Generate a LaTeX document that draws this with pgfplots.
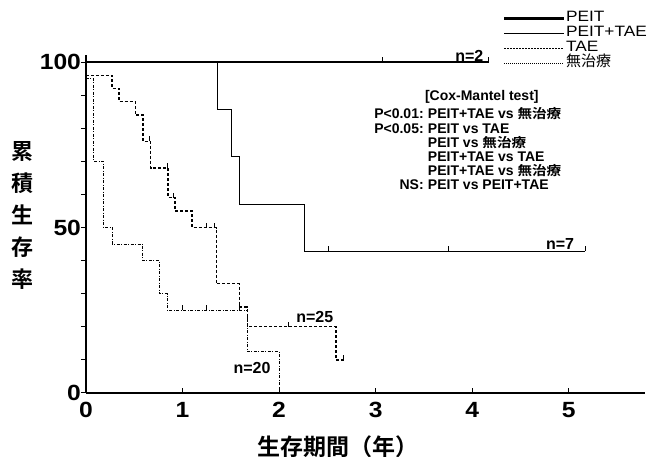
\documentclass[border=0pt]{standalone}
\usepackage{fontspec}
\setmainfont{Liberation Sans}
\newfontfamily\cjk{Noto Sans CJK JP}[BoldFont={Noto Sans CJK JP Bold}]
\usepackage{graphicx}
\usepackage{pgfplots}
\pgfplotsset{compat=1.18}

% censoring tick: short stroke upwards from the point
\pgfdeclareplotmark{cens}{%
  \pgfpathmoveto{\pgfpointorigin}%
  \pgfpathlineto{\pgfpoint{0pt}{5pt}}%
  \pgfusepathqstroke}

\newcommand\wide[1]{\scalebox{1.15}[1]{#1}}
\newcommand\jp[1]{\scalebox{1.12}[1]{\cjk\fontsize{13}{13}\selectfont #1}}

\tikzset{
  peit/.style={black, line width=2.6pt},
  peittae/.style={black, line width=1pt},
  tae/.style={black, line width=1.4pt, dash pattern=on 3pt off 2pt},
  none/.style={black, line width=1pt, dash pattern=on 3pt off 1.5pt on 1pt off 1.5pt},
}

\begin{document}
\begin{tikzpicture}[x=1pt,y=1pt]
\useasboundingbox (0,0) rectangle (657,457);
\begin{axis}[
  at={(86pt,64pt)}, anchor=south west,
  scale only axis, width=559pt, height=337.6pt,
  xmin=0, xmax=5.79, ymin=0, ymax=102,
  axis x line=bottom, axis y line=left,
  axis line style={line width=2.6pt, -},
  clip=false,
  xtick={0,1,2,3,4,5},
  ytick={0,50,100},
  minor ytick={10,20,30,40,60,70,80,90},
  tick align=inside,
  major tick length=5pt, minor tick length=5pt,
  tick style={black, line width=1pt},
  y tick style={xshift=-5pt},
  /pgf/number format/assume math mode=true,
  ticklabel style={font=\fontsize{22}{22}\selectfont\bfseries, xscale=1.12},
  xticklabel style={yshift=-6pt},
  yticklabel style={xshift=-1pt},
  legend style={draw=none, fill=none, inner sep=0pt,
    at={(axis cs:4.317,115.5)}, anchor=north west,
    font=\fontsize{15}{15}\selectfont, row sep=0pt,
    nodes={inner sep=0.5pt, text height=10.5pt, text depth=3.5pt},
    legend cell align=left},
  legend image code/.code={\draw[#1] (0pt,0pt) -- (60pt,0pt);},
]
\addlegendimage{peit}
\addlegendentry{\wide{PEIT}}
\addlegendimage{peittae}
\addlegendentry{\wide{PEIT+TAE}}
\addlegendimage{black, line width=1pt, dash pattern=on 1.5pt off 1.5pt}
\addlegendentry{\wide{TAE}}
\addlegendimage{black, line width=0.8pt, dash pattern=on 1pt off 1pt}
\addlegendentry{{\cjk 無治療}}

% PEIT
\addplot[peit, const plot, forget plot] coordinates {(0,100) (4.17,100)};
\addplot[only marks, mark=cens, mark options={black, line width=1pt}, forget plot]
  coordinates {(3.07,100) (4.17,100)};

% PEIT+TAE
\addplot[peittae, const plot, forget plot] coordinates {
  (0,100) (1.36,85.7) (1.51,71.4) (1.59,57.1) (2.26,42.9) (5.17,42.9)};
\addplot[only marks, mark=cens, mark options={black, line width=1pt}, forget plot]
  coordinates {(2.51,42.9) (3.75,42.9) (5.17,42.9)};

% TAE
\addplot[tae, const plot, forget plot] coordinates {
  (0,96) (0.27,92) (0.34,88) (0.51,84) (0.59,76) (0.67,68) (0.85,59)
  (0.92,55) (1.10,50) (1.35,33) (1.59,26) (1.67,20) (2.59,10) (2.67,10)};
\addplot[only marks, mark=cens, mark options={black, line width=1pt}, forget plot]
  coordinates {(0.66,76) (0.84,68) (0.91,59) (1.25,50) (1.33,50) (2.10,20) (2.67,10)};

% no treatment
\addplot[none, const plot, forget plot] coordinates {
  (0,95) (0.08,70) (0.18,50) (0.27,45) (0.59,40) (0.76,30) (0.84,25)
  (1.67,12.5) (2.0,0)};
\addplot[only marks, mark=cens, mark options={black, line width=1pt}, forget plot]
  coordinates {(1.0,25) (1.25,25) (1.59,25)};

% n labels
\node[font=\fontsize{16}{16}\selectfont\bfseries] at (axis cs:3.97,101.8) {n=2};
\node[font=\fontsize{16}{16}\selectfont\bfseries] at (axis cs:4.91,45) {n=7};
\node[font=\fontsize{16}{16}\selectfont\bfseries] at (axis cs:2.37,23) {n=25};
\node[font=\fontsize{16}{16}\selectfont\bfseries] at (axis cs:1.72,7.5) {n=20};

% test annotation
\node[font=\fontsize{14}{14}\selectfont\bfseries] at (axis cs:4.10,89.4) {[Cox-Mantel test]};
\begin{scope}[every node/.style={font=\fontsize{14}{14}\selectfont\bfseries, inner sep=0pt}]
\node[anchor=base east] at (axis cs:3.50,82.8) {P<0.01:};
\node[anchor=base west] at (axis cs:3.54,82.8) {PEIT+TAE vs \jp{無治療}};
\node[anchor=base east] at (axis cs:3.50,78.55) {P<0.05:};
\node[anchor=base west] at (axis cs:3.54,78.55) {PEIT vs TAE};
\node[anchor=base west] at (axis cs:3.54,74.3) {PEIT vs \jp{無治療}};
\node[anchor=base west] at (axis cs:3.54,70.05) {PEIT+TAE vs TAE};
\node[anchor=base west] at (axis cs:3.54,65.8) {PEIT+TAE vs \jp{無治療}};
\node[anchor=base east] at (axis cs:3.50,61.55) {NS:};
\node[anchor=base west] at (axis cs:3.54,61.55) {PEIT vs PEIT+TAE};
\end{scope}

% axis titles
\node[font=\fontsize{22}{32}\selectfont\bfseries\cjk, align=center]
  at (axis cs:-0.66,53.5) {累\\積\\生\\存\\率};
\node[font=\fontsize{23}{23}\selectfont\bfseries\cjk]
  at (axis cs:2.61,-16.2) {生存期間（年）};
\end{axis}
\end{tikzpicture}
\end{document}
